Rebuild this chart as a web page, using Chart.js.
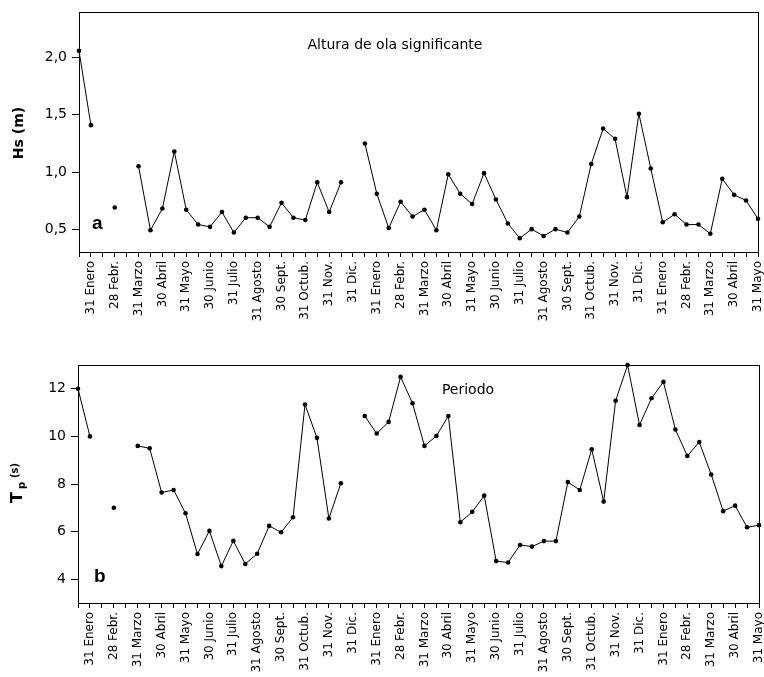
<!DOCTYPE html>
<html>
<head>
<meta charset="utf-8">
<title>Altura de ola significante y Periodo</title>
<script src="https://cdn.jsdelivr.net/npm/chart.js@4/dist/chart.umd.min.js"></script>
<style>
  html, body { margin: 0; padding: 0; background: #fff; }
  body { width: 764px; height: 677px; position: relative; overflow: hidden; }
  canvas { position: absolute; left: 0; }
  #hs { top: 0; }
  #tp { top: 330px; }
</style>
</head>
<body>
<canvas id="hs" width="764" height="330"></canvas>
<canvas id="tp" width="764" height="347"></canvas>
<script>
// Month-end labels (every second half-month tick carries one)
const monthLabels = [
  '31 Enero', '28 Febr.', '31 Marzo', '30 Abril', '31 Mayo', '30 Junio',
  '31 Julio', '31 Agosto', '30 Sept.', '31 Octub.', '31 Nov.', '31 Dic.',
  '31 Enero', '28 Febr.', '31 Marzo', '30 Abril', '31 Mayo', '30 Junio',
  '31 Julio', '31 Agosto', '30 Sept.', '31 Octub.', '31 Nov.', '31 Dic.',
  '31 Enero', '28 Febr.', '31 Marzo', '30 Abril', '31 Mayo'
];

// Significant wave height Hs (m), one value per half month (null = no data)
const hsValues = [
  2.06, 1.41, null, 0.69, null, 1.05, 0.49, 0.68, 1.18, 0.67,
  0.54, 0.52, 0.65, 0.47, 0.60, 0.60, 0.52, 0.73, 0.60, 0.58,
  0.91, 0.65, 0.91, null, 1.25, 0.81, 0.51, 0.74, 0.61, 0.67,
  0.49, 0.98, 0.81, 0.72, 0.99, 0.76, 0.55, 0.42, 0.50, 0.44,
  0.50, 0.47, 0.61, 1.07, 1.38, 1.29, 0.78, 1.51, 1.03, 0.56,
  0.63, 0.54, 0.54, 0.46, 0.94, 0.80, 0.75, 0.59
];

// Peak period Tp (s), one value per half month (null = no data)
const tpValues = [
  12.0, 10.0, null, 7.0, null, 9.6, 9.5, 7.64, 7.75, 6.77,
  5.06, 6.03, 4.55, 5.61, 4.64, 5.07, 6.24, 5.97, 6.6, 11.34,
  9.94, 6.55, 8.03, null, 10.86, 10.12, 10.61, 12.5, 11.39, 9.6,
  10.02, 10.86, 6.39, 6.83, 7.51, 4.76, 4.70, 5.44, 5.37, 5.6,
  5.6, 8.08, 7.75, 9.46, 7.26, 11.5, 13.0, 10.48, 11.6, 12.29,
  10.29, 9.18, 9.76, 8.4, 6.86, 7.09, 6.18, 6.27
];

const hsTicks = [0.5, 1.0, 1.5, 2.0];
const tpTicks = [4, 6, 8, 10, 12];

// Half-month categories: odd slots are month ends, even slots are mid-month
const halfMonths = [];
monthLabels.forEach(m => { halfMonths.push(''); halfMonths.push(m); });

const TICK_FONT = 'DejaVu Sans';

// Plot frame, panel letter, inner title and rotated y-axis title
const decorPlugin = {
  id: 'decor',
  beforeDatasetsDraw(chart) {
    const { ctx, chartArea: a } = chart;
    ctx.save();
    ctx.strokeStyle = '#000';
    ctx.lineWidth = 1;
    const l = Math.round(a.left) + 0.5, t = Math.round(a.top) + 0.5;
    const r = Math.round(a.right) + 0.5, b = Math.round(a.bottom) + 0.5;
    ctx.strokeRect(l, t, r - l, b - t);
    ctx.restore();
  },
  afterDraw(chart, args, o) {
    const ctx = chart.ctx;
    ctx.save();
    ctx.fillStyle = '#000';
    ctx.textBaseline = 'alphabetic';
    // panel letter
    ctx.font = 'bold 19px "Liberation Sans", Arial, sans-serif';
    ctx.textAlign = 'left';
    ctx.fillText(o.letter, o.letterX, o.letterY);
    // inner title
    ctx.font = '14px "DejaVu Sans", sans-serif';
    ctx.textAlign = 'center';
    ctx.fillText(o.title, o.titleX, o.titleY);
    // y-axis title, rotated
    ctx.translate(o.axisX, o.axisY);
    ctx.rotate(-Math.PI / 2);
    o.axisParts.forEach(p => {
      ctx.font = p.font;
      ctx.textAlign = p.align || 'left';
      ctx.fillText(p.text, p.dx, p.dy);
    });
    ctx.restore();
  }
};

function makeChart(id, values, yMin, yMax, ticks, fmt, box, decor) {
  return new Chart(document.getElementById(id), {
    type: 'line',
    data: {
      labels: halfMonths,
      datasets: [{
        data: values,
        borderColor: '#000',
        borderWidth: 1,
        backgroundColor: '#000',
        pointBackgroundColor: '#000',
        pointBorderWidth: 0,
        pointRadius: 2.3,
        tension: 0,
        spanGaps: false,
        clip: false
      }]
    },
    options: {
      responsive: false,
      animation: false,
      devicePixelRatio: 1,
      layout: { padding: { top: box.top, right: box.right, left: 0, bottom: 0 } },
      plugins: {
        legend: { display: false },
        tooltip: { enabled: false },
        decor: decor
      },
      scales: {
        x: {
          type: 'category',
          offset: false,
          grid: { display: true, drawOnChartArea: false, drawTicks: true, tickLength: 5, color: '#000', lineWidth: 1 },
          border: { display: true, color: '#000', width: 1 },
          ticks: {
            autoSkip: false,
            minRotation: 90,
            maxRotation: 90,
            padding: 4,
            color: '#000',
            font: { family: TICK_FONT, size: 12 }
          },
          afterFit(s) { s.height = box.xHeight; s.paddingLeft = 0; s.paddingRight = 0; }
        },
        y: {
          type: 'linear',
          min: yMin,
          max: yMax,
          grid: { display: true, drawOnChartArea: false, drawTicks: true, tickLength: 7, color: '#000', lineWidth: 1 },
          border: { display: true, color: '#000', width: 1 },
          ticks: {
            padding: 5,
            color: '#000',
            font: { family: TICK_FONT, size: 14 },
            callback: v => fmt(v)
          },
          afterBuildTicks(s) { s.ticks = ticks.map(v => ({ value: v })); },
          afterFit(s) { s.width = box.yWidth; s.paddingTop = 0; s.paddingBottom = 0; }
        }
      }
    },
    plugins: [decorPlugin]
  });
}

makeChart('hs', hsValues, 0.3, 2.4, hsTicks,
  v => v.toFixed(1).replace('.', ','),
  { top: 12, right: 6, yWidth: 79, xHeight: 78 },
  {
    letter: 'a', letterX: 92, letterY: 229,
    title: 'Altura de ola significante', titleX: 395, titleY: 49,
    axisX: 23, axisY: 133,
    axisParts: [{ text: 'Hs (m)', font: 'bold 14px "DejaVu Sans", sans-serif', align: 'center', dx: 0, dy: 0 }]
  });

makeChart('tp', tpValues, 3, 13, tpTicks,
  v => String(v),
  { top: 35, right: 5, yWidth: 78, xHeight: 74 },
  {
    letter: 'b', letterX: 94, letterY: 252,
    title: 'Periodo', titleX: 468, titleY: 64,
    axisX: 22, axisY: 173,
    axisParts: [
      { text: 'T', font: 'bold 16px "DejaVu Sans", sans-serif', dx: 0, dy: 0 },
      { text: 'p', font: 'bold 10px "DejaVu Sans", sans-serif', dx: 14, dy: 3 },
      { text: '(s)', font: 'bold 10px "DejaVu Sans", sans-serif', dx: 25, dy: -4 }
    ]
  });
</script>
</body>
</html>
